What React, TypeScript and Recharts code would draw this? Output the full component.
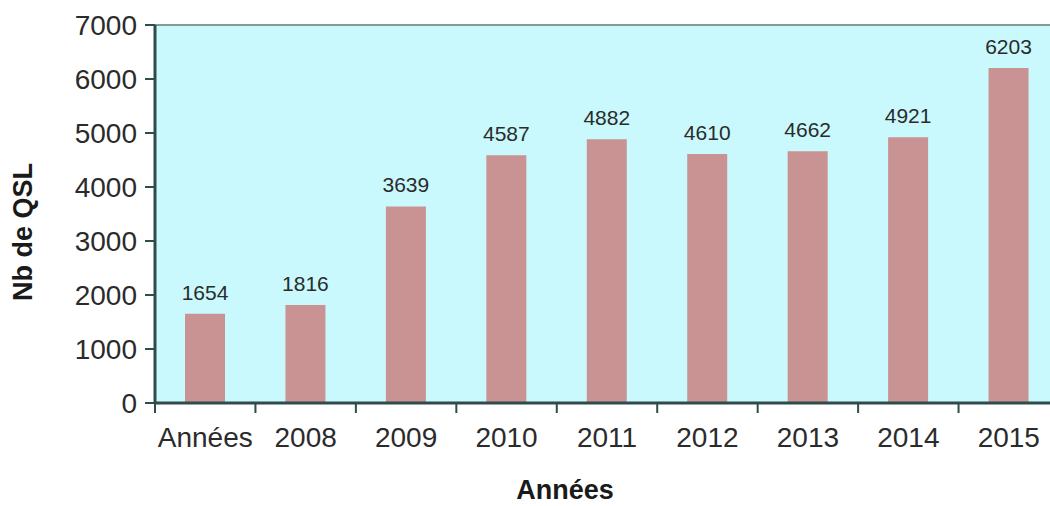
import React from 'react';
import { BarChart, Bar, XAxis, YAxis, CartesianGrid, ReferenceLine, LabelList, Label } from 'recharts';

const categories = ['Années', '2008', '2009', '2010', '2011', '2012', '2013', '2014', '2015'];
const qslCounts = [1654, 1816, 3639, 4587, 4882, 4610, 4662, 4921, 6203];
const yTicks = [0, 1000, 2000, 3000, 4000, 5000, 6000, 7000];

const data = categories.map((name, i) => ({ name, value: qslCounts[i] }));

const CHART_W = 1060;
const CHART_H = 506;
const Y_AXIS_W = 155;
const RIGHT_MARGIN = 1;
const BAND = (CHART_W - Y_AXIS_W - RIGHT_MARGIN) / categories.length;

const AXIS_COLOR = '#2f4b4b';
const TEXT_COLOR = '#2b2b2b';
const FONT = 'Arial, "Liberation Sans", sans-serif';

// category label at center, tick mark at the left boundary of each band
function XTick({ x, y, payload, index }: any) {
  const isLast = index === categories.length - 1;
  return (
    <g>
      <line x1={x - BAND / 2} y1={y} x2={x - BAND / 2} y2={y + 10} stroke={AXIS_COLOR} strokeWidth={2} />
      {isLast && <line x1={x + BAND / 2} y1={y} x2={x + BAND / 2} y2={y + 10} stroke={AXIS_COLOR} strokeWidth={2} />}
      <text x={x} y={y + 44} textAnchor="middle" fontSize={28} fill={TEXT_COLOR} fontFamily={FONT}>
        {payload.value}
      </text>
    </g>
  );
}

export default function App() {
  return (
    <div style={{ position: 'absolute', left: 0, top: 0, width: 1050, height: 506, overflow: 'hidden', background: '#ffffff' }}>
      <BarChart
        width={CHART_W}
        height={CHART_H}
        data={data}
        margin={{ top: 25, right: RIGHT_MARGIN, left: 0, bottom: 0 }}
      >
        <CartesianGrid horizontal={false} vertical={false} fill="#c9f9fc" />
        <ReferenceLine y={7000} stroke="#7f9c9c" strokeWidth={2} />
        <XAxis
          dataKey="name"
          height={103}
          axisLine={{ stroke: AXIS_COLOR, strokeWidth: 3 }}
          tickLine={false}
          tickSize={0}
          tickMargin={0}
          tick={<XTick />}
          interval={0}
        >
          <Label
            content={() => (
              <text x={565} y={499} textAnchor="middle" fontSize={27} fontWeight="bold" fill="#1a1a1a" fontFamily={FONT}>
                Années
              </text>
            )}
          />
        </XAxis>
        <YAxis
          width={Y_AXIS_W}
          domain={[0, 7000]}
          ticks={yTicks}
          interval={0}
          axisLine={{ stroke: AXIS_COLOR, strokeWidth: 3 }}
          tickLine={{ stroke: AXIS_COLOR, strokeWidth: 2 }}
          tickSize={10}
          tickMargin={8}
          tick={{ fontSize: 28, fill: TEXT_COLOR, fontFamily: FONT }}
        >
          <Label
            content={() => (
              <text
                x={23}
                y={232}
                transform="rotate(-90 23 232)"
                textAnchor="middle"
                dominantBaseline="central"
                fontSize={27}
                fontWeight="bold"
                fill="#1a1a1a"
                fontFamily={FONT}
              >
                Nb de QSL
              </text>
            )}
          />
        </YAxis>
        <Bar dataKey="value" fill="#c99393" barSize={40} isAnimationActive={false}>
          <LabelList dataKey="value" position="top" offset={14} fontSize={21} fill={TEXT_COLOR} fontFamily={FONT} />
        </Bar>
      </BarChart>
    </div>
  );
}
